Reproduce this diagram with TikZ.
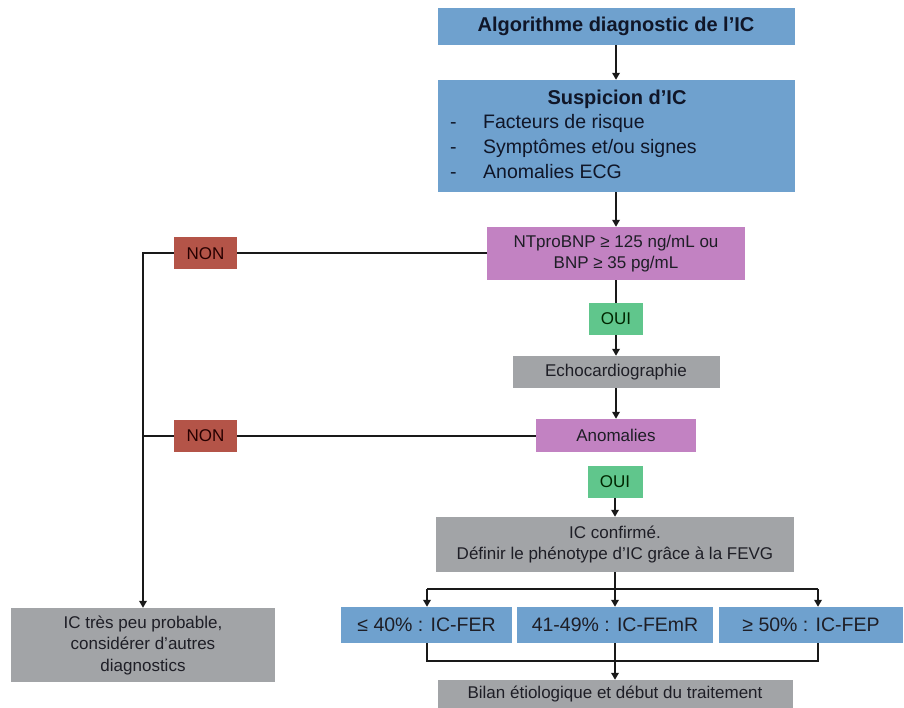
\documentclass[tikz,border=0pt]{standalone}
\usepackage{fontspec}
\setmainfont{Liberation Sans}
\usetikzlibrary{arrows.meta}
\definecolor{bluebox}{RGB}{111,161,206}
\definecolor{purplebox}{RGB}{194,130,194}
\definecolor{greenbox}{RGB}{96,198,140}
\definecolor{redbox}{RGB}{180,84,72}
\definecolor{greybox}{RGB}{162,164,167}
\definecolor{txt}{RGB}{30,30,38}
\definecolor{ttl}{RGB}{16,22,40}
\begin{document}
\begin{tikzpicture}[x=1pt,y=-1pt,
  box/.style={draw=none, inner sep=0pt, align=center, text=txt,
    font=\fontsize{17}{21}\selectfont},
  conn/.style={line width=2pt, draw=black!90},
  arr/.style={conn, -{Triangle[length=7pt,width=7.5pt]}},
  lbl/.style={inner sep=0pt, text=ttl, text height=14pt, text depth=4pt,
    font=\fontsize{19.5}{23}\selectfont}
]
\useasboundingbox (0,0) rectangle (904,708);
\fill[white] (0,0) rectangle (904,708);

% top blue boxes
\node[box, fill=bluebox, minimum width=357pt, minimum height=37pt, text=ttl,
  font=\fontsize{20}{24}\selectfont\bfseries] (title) at (616,26.5) {Algorithme diagnostic de l’IC};
\node[box, fill=bluebox, minimum width=357pt, minimum height=112pt] (susp) at (616,136) {};
\node[lbl, font=\fontsize{20}{24}\selectfont\bfseries] (stitle) at (617,100) {Suspicion d’IC};
\node[lbl, anchor=west] (d1) at (450,124) {-};
\node[lbl, anchor=west] (i1) at (483,124) {Facteurs de risque};
\node[lbl, anchor=west] (d2) at (450,149) {-};
\node[lbl, anchor=west] (i2) at (483,149) {Symptômes et/ou signes};
\node[lbl, anchor=west] (d3) at (450,174) {-};
\node[lbl, anchor=west] (i3) at (483,174) {Anomalies ECG};

% decision chain
\node[box, fill=purplebox, minimum width=258pt, minimum height=53pt] (ntp) at (616,253.5) {NTproBNP ≥ 125 ng/mL ou\\BNP ≥ 35 pg/mL};
\node[box, fill=greenbox, minimum width=54pt, minimum height=32pt, text=black!85!green] (oui1) at (616,319) {OUI};
\node[box, fill=greybox, minimum width=207pt, minimum height=32pt] (echo) at (616,372) {Echocardiographie};
\node[box, fill=purplebox, minimum width=160pt, minimum height=33pt] (anom) at (616,435.5) {Anomalies};
\node[box, fill=greenbox, minimum width=55pt, minimum height=32pt, text=black!85!green] (oui2) at (615,482) {OUI};
\node[box, fill=greybox, minimum width=358pt, minimum height=55pt] (conf) at (615,544.5) {IC confirmé.\\Définir le phénotype d’IC grâce à la FEVG};

% NON branch
\node[box, fill=redbox, minimum width=63pt, minimum height=32pt, text=black!85!red] (non1) at (205.5,253.5) {NON};
\node[box, fill=redbox, minimum width=63pt, minimum height=32pt, text=black!85!red] (non2) at (205.5,435.5) {NON};
\node[box, fill=greybox, minimum width=264pt, minimum height=74pt, font=\fontsize{17}{21.5}\selectfont] (left) at (143,645) {IC très peu probable,\\considérer d’autres\\diagnostics};

% phenotype boxes
\node[box, fill=bluebox, minimum width=171pt, minimum height=36pt, font=\fontsize{19.5}{23}\selectfont] (fer) at (426.5,625) {≤ 40\% : IC-FER};
\node[box, fill=bluebox, minimum width=196pt, minimum height=36pt, font=\fontsize{19.5}{23}\selectfont] (femr) at (615,625) {41-49\% : IC-FEmR};
\node[box, fill=bluebox, minimum width=184pt, minimum height=36pt, font=\fontsize{19.5}{23}\selectfont] (fep) at (811,625) {≥ 50\% : IC-FEP};
\node[box, fill=greybox, minimum width=355pt, minimum height=28pt] (bilan) at (615,694) {Bilan étiologique et début du traitement};

% coordinates
\coordinate (c1) at (143,253.5);
\coordinate (b1) at (427,589);
\coordinate (b2) at (615,589);
\coordinate (b3) at (818,589);
\coordinate (j1) at (427,661);
\coordinate (j2) at (615,661);
\coordinate (j3) at (818,661);

% connectors
\draw[arr] (title) -- (susp);
\draw[arr] (susp) -- (ntp);
\draw[conn] (ntp) -- (oui1);
\draw[arr] (oui1) -- (echo);
\draw[arr] (echo) -- (anom);
\draw[arr] (oui2) -- (conf);

\draw[conn] (ntp.west) -- (non1.east);
\draw[arr] (non1.west) -- (c1) -- (c1 |- left.north);
\draw[conn] (anom.west) -- (non2.east);
\draw[conn] (non2.west) -- (c1 |- non2.west);

\draw[conn] (conf.south) -- (b2);
\draw[conn] (b1) -- (b3);
\draw[arr] (b1) -- (b1 |- fer.north);
\draw[arr] (b2) -- (femr.north);
\draw[arr] (b3) -- (b3 |- fep.north);

\draw[conn] (j1 |- fer.south) -- (j1) -- (j3) -- (j3 |- fep.south);
\draw[conn] (femr.south) -- (j2);
\draw[arr] (j2) -- (bilan.north);
\end{tikzpicture}
\end{document}
